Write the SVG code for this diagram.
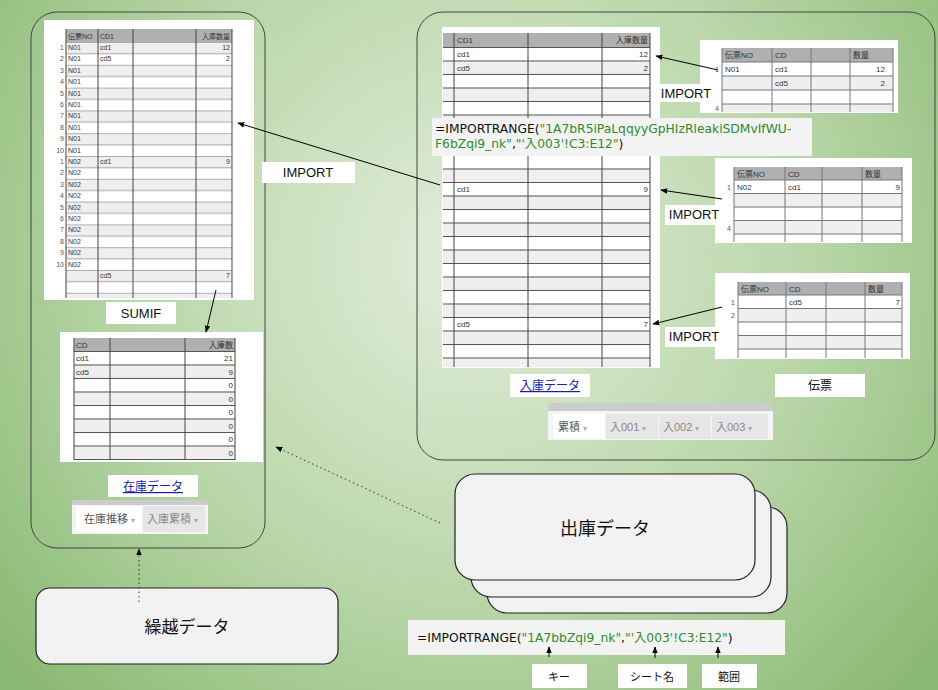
<svg xmlns="http://www.w3.org/2000/svg" width="938" height="690" viewBox="0 0 938 690">
<defs>
<radialGradient id="bg" cx="470" cy="260" r="620" gradientUnits="userSpaceOnUse">
<stop offset="0" stop-color="#e2eedc"/><stop offset="0.55" stop-color="#b9d6a8"/><stop offset="1" stop-color="#88b872"/>
</radialGradient>
<pattern id="rowsL" x="0" y="42" width="10" height="22.8" patternUnits="userSpaceOnUse">
<rect width="10" height="11.4" fill="#efefef"/><rect y="11.4" width="10" height="11.4" fill="#fff"/>
<line x1="0" y1="0.3" x2="10" y2="0.3" stroke="#888" stroke-width="0.8"/><line x1="0" y1="11.7" x2="10" y2="11.7" stroke="#888" stroke-width="0.8"/>
</pattern>
<pattern id="rowsM" x="0" y="47" width="10" height="27" patternUnits="userSpaceOnUse">
<rect width="10" height="13.5" fill="#fff"/><rect y="13.5" width="10" height="13.5" fill="#efefef"/>
<line x1="0" y1="0.5" x2="10" y2="0.5" stroke="#555" stroke-width="1"/><line x1="0" y1="14" x2="10" y2="14" stroke="#555" stroke-width="1"/>
</pattern>
<pattern id="rowsS" x="0" y="351" width="10" height="27" patternUnits="userSpaceOnUse">
<rect width="10" height="13.5" fill="#fff"/><rect y="13.5" width="10" height="13.5" fill="#efefef"/>
<line x1="0" y1="0.5" x2="10" y2="0.5" stroke="#555" stroke-width="1"/><line x1="0" y1="14" x2="10" y2="14" stroke="#555" stroke-width="1"/>
</pattern>
<marker id="ah" viewBox="0 0 10 10" refX="9" refY="5" markerWidth="7" markerHeight="7" orient="auto-start-reverse"><path d="M0,1 L10,5 L0,9 z" fill="#000"/></marker>
</defs>
<style>
text{font-family:"Liberation Sans","Noto Sans CJK JP",sans-serif;}
text.f{font-family:"DejaVu Sans","Noto Sans CJK JP",sans-serif;font-size:12.3px;fill:#111}
.t{font-size:7px;fill:#333}
.tm{font-size:8px;fill:#333}
.n{font-size:7px;fill:#555}
.lbl{font-size:13px;fill:#111}
.wb{fill:#fff}
.hdr{fill:#b0b0b0}
.vl{stroke:#444;stroke-width:1}
.cont{fill:none;stroke:#444;stroke-width:1}
.box{fill:#f2f2f2;stroke:#222;stroke-width:1.2}
.g{fill:#2e8b2e}
.link{font-size:12px;fill:#1a1aa6;text-decoration:underline}
.tab{font-size:11px;fill:#555}
.tg{font-size:11px;fill:#888}
.conn{stroke:#000;stroke-width:1;fill:none}
.dot{stroke:#333;stroke-width:1;stroke-dasharray:1.5 3;fill:none}
</style>
<rect width="938" height="690" fill="url(#bg)"/>

<g id="left-container">
<rect class="cont" x="31" y="12" width="234" height="536" rx="26"/>
</g>

<g id="left-table">
<rect class="wb" x="44" y="20" width="210" height="280"/>
<rect class="hdr" x="66" y="29" width="166" height="13"/>
<rect x="66" y="42" width="166" height="256" fill="url(#rowsL)"/>
<line class="vl" x1="66" y1="29" x2="66" y2="298"/><line class="vl" x1="98" y1="29" x2="98" y2="298"/><line class="vl" x1="133" y1="29" x2="133" y2="298"/><line class="vl" x1="196" y1="29" x2="196" y2="298"/><line class="vl" x1="232" y1="29" x2="232" y2="298"/>
<text class="t" x="68" y="38.5">伝票NO</text><text class="t" x="100" y="38.5">CD1</text><text class="t" x="230" y="38.5" text-anchor="end">入庫数量</text>
<g class="n" text-anchor="end">
<text x="64" y="49.9">1</text><text x="64" y="61.3">2</text><text x="64" y="72.7">3</text><text x="64" y="84.1">4</text><text x="64" y="95.5">5</text><text x="64" y="106.9">6</text><text x="64" y="118.3">7</text><text x="64" y="129.7">8</text><text x="64" y="141.1">9</text><text x="64" y="152.5">10</text>
<text x="64" y="163.9">1</text><text x="64" y="175.3">2</text><text x="64" y="186.7">3</text><text x="64" y="198.1">4</text><text x="64" y="209.5">5</text><text x="64" y="220.9">6</text><text x="64" y="232.3">7</text><text x="64" y="243.7">8</text><text x="64" y="255.1">9</text><text x="64" y="266.5">10</text>
</g>
<g class="t">
<text x="68" y="49.9">N01</text><text x="68" y="61.3">N01</text><text x="68" y="72.7">N01</text><text x="68" y="84.1">N01</text><text x="68" y="95.5">N01</text><text x="68" y="106.9">N01</text><text x="68" y="118.3">N01</text><text x="68" y="129.7">N01</text><text x="68" y="141.1">N01</text><text x="68" y="152.5">N01</text>
<text x="68" y="163.9">N02</text><text x="68" y="175.3">N02</text><text x="68" y="186.7">N02</text><text x="68" y="198.1">N02</text><text x="68" y="209.5">N02</text><text x="68" y="220.9">N02</text><text x="68" y="232.3">N02</text><text x="68" y="243.7">N02</text><text x="68" y="255.1">N02</text><text x="68" y="266.5">N02</text>
<text x="100" y="49.9">cd1</text><text x="100" y="61.3">cd5</text><text x="100" y="163.9">cd1</text><text x="100" y="277.9">cd5</text>
<text x="230" y="49.9" text-anchor="end">12</text><text x="230" y="61.3" text-anchor="end">2</text><text x="230" y="163.9" text-anchor="end">9</text><text x="230" y="277.9" text-anchor="end">7</text>
</g>
</g>

<g id="sumif-label"><rect class="wb" x="106" y="302" width="70" height="22"/><text class="lbl" x="141" y="318" text-anchor="middle" font-size="12">SUMIF</text></g>

<g id="stock-table">
<rect class="wb" x="60" y="332" width="203" height="130"/>
<rect class="hdr" x="74" y="338" width="161" height="13"/>
<rect x="74" y="351" width="161" height="109" fill="url(#rowsS)"/>
<line class="vl" x1="74" y1="338" x2="74" y2="460"/><line class="vl" x1="110" y1="338" x2="110" y2="460"/><line class="vl" x1="185" y1="338" x2="185" y2="460"/><line class="vl" x1="235" y1="338" x2="235" y2="460"/>
<text class="tm" x="76" y="347.5">CD</text><text class="tm" x="233" y="347.5" text-anchor="end">入庫数</text>
<g class="tm"><text x="76" y="361">cd1</text><text x="76" y="374.5">cd5</text></g>
<g class="tm" text-anchor="end"><text x="233" y="361">21</text><text x="233" y="374.5">9</text><text x="233" y="388">0</text><text x="233" y="401.5">0</text><text x="233" y="415">0</text><text x="233" y="428.5">0</text><text x="233" y="442">0</text><text x="233" y="455.5">0</text></g>
</g>

<g id="stock-link"><rect class="wb" x="108" y="475" width="90" height="22"/><text class="link" x="153" y="491" text-anchor="middle">在庫データ</text></g>
<g id="stock-tabs">
<rect x="72" y="500" width="136" height="34" fill="#f4f4f4"/><rect x="72" y="500" width="136" height="5" fill="#ccc"/>
<rect x="76" y="506" width="66" height="26" fill="#fff"/><rect x="143" y="506" width="62" height="26" fill="#e6e6e6"/>
<text class="tab" x="84" y="523">在庫推移 <tspan fill="#aaa" font-size="8">▾</tspan></text><text class="tg" x="147" y="523">入庫累積 <tspan fill="#aaa" font-size="8">▾</tspan></text>
</g>

<g id="carry-over"><rect class="box" x="36" y="588" width="302" height="76" rx="14"/><text x="187" y="633" text-anchor="middle" font-size="17" fill="#111">繰越データ</text></g>

<g id="right-container"><rect class="cont" x="417" y="12" width="518" height="448" rx="26"/></g>

<g id="receipt-table">
<rect class="wb" x="442" y="27" width="218" height="341"/>
<rect class="hdr" x="443" y="33" width="207" height="14"/>
<rect x="443" y="47" width="207" height="320" fill="url(#rowsM)"/>
<line class="vl" x1="454" y1="33" x2="454" y2="367"/><line class="vl" x1="528" y1="33" x2="528" y2="367"/><line class="vl" x1="602" y1="33" x2="602" y2="367"/><line class="vl" x1="650" y1="33" x2="650" y2="367"/>
<text class="tm" x="457" y="43">CD1</text><text class="tm" x="648" y="43" text-anchor="end">入庫数量</text>
<g class="tm"><text x="457" y="57">cd1</text><text x="457" y="70.5">cd5</text><text x="457" y="192">cd1</text><text x="457" y="327">cd5</text></g>
<g class="tm" text-anchor="end"><text x="648" y="57">12</text><text x="648" y="70.5">2</text><text x="648" y="192">9</text><text x="648" y="327">7</text></g>
</g>

<g id="formula-top">
<rect x="432" y="118" width="380" height="38" fill="#f3f3f3"/>
<text class="f" x="435" y="133">=IMPORTRANGE(<tspan class="g">"1A7bR5iPaLqqyyGpHIzRleakiSDMvIfWU-</tspan></text>
<text class="f" x="435" y="148"><tspan class="g">F6bZqi9_nk"</tspan>,<tspan class="g">"'入003'!C3:E12"</tspan>)</text>
</g>

<g id="slip1">
<rect class="wb" x="700" y="40" width="198" height="73"/>
<rect class="hdr" x="722" y="48" width="171" height="14"/>
<rect x="722" y="76" width="171" height="14" fill="#efefef"/><rect x="722" y="104" width="171" height="8" fill="#efefef"/>
<g stroke="#777"><line x1="722" y1="62" x2="893" y2="62"/><line x1="722" y1="76" x2="893" y2="76"/><line x1="722" y1="90" x2="893" y2="90"/><line x1="722" y1="104" x2="893" y2="104"/></g>
<g stroke="#777"><line x1="722" y1="48" x2="722" y2="112"/><line x1="772" y1="48" x2="772" y2="112"/><line x1="811" y1="48" x2="811" y2="112"/><line x1="850" y1="48" x2="850" y2="112"/><line x1="893" y1="48" x2="893" y2="112"/></g>
<text class="tm" x="725" y="58">伝票NO</text><text class="tm" x="775" y="58">CD</text><text class="tm" x="853" y="58">数量</text>
<text class="tm" x="725" y="72">N01</text><text class="tm" x="775" y="72">cd1</text><text class="tm" x="885" y="72" text-anchor="end">12</text>
<text class="tm" x="775" y="86">cd5</text><text class="tm" x="885" y="86" text-anchor="end">2</text>
<text class="n" x="719" y="72" text-anchor="end">1</text><text class="n" x="719" y="111" text-anchor="end">4</text>
</g>

<g id="slip2">
<rect class="wb" x="715" y="158" width="197" height="85"/>
<rect class="hdr" x="734" y="167" width="168" height="13"/>
<rect x="734" y="193.5" width="168" height="13.5" fill="#efefef"/><rect x="734" y="220.5" width="168" height="13.5" fill="#efefef"/>
<g stroke="#777"><line x1="734" y1="180" x2="902" y2="180"/><line x1="734" y1="193.5" x2="902" y2="193.5"/><line x1="734" y1="207" x2="902" y2="207"/><line x1="734" y1="220.5" x2="902" y2="220.5"/><line x1="734" y1="234" x2="902" y2="234"/>
<line x1="734" y1="167" x2="734" y2="242"/><line x1="785" y1="167" x2="785" y2="242"/><line x1="822" y1="167" x2="822" y2="242"/><line x1="862" y1="167" x2="862" y2="242"/><line x1="902" y1="167" x2="902" y2="242"/></g>
<text class="tm" x="737" y="176.5">伝票NO</text><text class="tm" x="788" y="176.5">CD</text><text class="tm" x="865" y="176.5">数量</text>
<text class="tm" x="737" y="190">N02</text><text class="tm" x="788" y="190">cd1</text><text class="tm" x="900" y="190" text-anchor="end">9</text>
<text class="n" x="731" y="190" text-anchor="end">1</text><text class="n" x="731" y="231" text-anchor="end">4</text>
</g>

<g id="slip3">
<rect class="wb" x="715" y="273" width="195" height="86"/>
<rect class="hdr" x="738" y="282" width="164" height="13"/>
<rect x="738" y="308.5" width="164" height="13.5" fill="#efefef"/><rect x="738" y="335.5" width="164" height="13.5" fill="#efefef"/>
<g stroke="#777"><line x1="738" y1="295" x2="902" y2="295"/><line x1="738" y1="308.5" x2="902" y2="308.5"/><line x1="738" y1="322" x2="902" y2="322"/><line x1="738" y1="335.5" x2="902" y2="335.5"/><line x1="738" y1="349" x2="902" y2="349"/>
<line x1="738" y1="282" x2="738" y2="358"/><line x1="786" y1="282" x2="786" y2="358"/><line x1="826" y1="282" x2="826" y2="358"/><line x1="865" y1="282" x2="865" y2="358"/><line x1="902" y1="282" x2="902" y2="358"/></g>
<text class="tm" x="741" y="291.5">伝票NO</text><text class="tm" x="789" y="291.5">CD</text><text class="tm" x="868" y="291.5">数量</text>
<text class="tm" x="789" y="305">cd5</text><text class="tm" x="900" y="305" text-anchor="end">7</text>
<text class="n" x="735" y="305" text-anchor="end">1</text><text class="n" x="735" y="318" text-anchor="end">2</text>
</g>

<g id="import-labels">
<rect class="wb" x="660" y="84" width="53" height="18"/><text class="lbl" x="686" y="98" text-anchor="middle" font-size="12">IMPORT</text>
<rect class="wb" x="665" y="205" width="58" height="20"/><text class="lbl" x="694" y="219" text-anchor="middle" font-size="12">IMPORT</text>
<rect class="wb" x="665" y="327" width="58" height="20"/><text class="lbl" x="694" y="341" text-anchor="middle" font-size="12">IMPORT</text>
<rect class="wb" x="262" y="162" width="93" height="21"/><text class="lbl" x="308" y="177" text-anchor="middle" font-size="12">IMPORT</text>
</g>

<g id="receipt-link"><rect class="wb" x="510" y="374" width="80" height="23"/><text class="link" x="550" y="390" text-anchor="middle">入庫データ</text></g>
<g id="slip-label"><rect class="wb" x="775" y="374" width="90" height="23"/><text x="820" y="390" text-anchor="middle" font-size="12" fill="#111">伝票</text></g>
<g id="receipt-tabs">
<rect x="548" y="403" width="225" height="37" fill="#f4f4f4"/><rect x="548" y="403" width="225" height="8" fill="#ccc"/>
<rect x="553" y="414" width="52" height="25" fill="#fff"/><rect x="606" y="414" width="52" height="25" fill="#e6e6e6"/><rect x="659" y="414" width="52" height="25" fill="#e6e6e6"/><rect x="712" y="414" width="56" height="25" fill="#e6e6e6"/>
<text class="tab" x="558" y="431">累積 <tspan fill="#aaa" font-size="8">▾</tspan></text><text class="tg" x="610" y="431">入001 <tspan fill="#aaa" font-size="8">▾</tspan></text><text class="tg" x="663" y="431">入002 <tspan fill="#aaa" font-size="8">▾</tspan></text><text class="tg" x="716" y="431">入003 <tspan fill="#aaa" font-size="8">▾</tspan></text>
</g>

<g id="shipping">
<rect class="box" x="487" y="507" width="300" height="106" rx="20"/>
<rect class="box" x="471" y="490" width="300" height="107" rx="20"/>
<rect class="box" x="455" y="474" width="300" height="106" rx="20"/>
<text x="605" y="535" text-anchor="middle" font-size="18" fill="#111">出庫データ</text>
</g>

<g id="formula-bottom">
<rect x="408" y="620" width="377" height="35" fill="#f3f3f3"/>
<text class="f" x="417" y="642">=IMPORTRANGE(<tspan class="g">"1A7bbZqi9_nk"</tspan>,<tspan class="g">"'入003'!C3:E12"</tspan>)</text>
</g>
<g id="key-label"><rect class="wb" x="532" y="664" width="55" height="24"/><text x="559" y="681" text-anchor="middle" font-size="11" fill="#111">キー</text></g>
<g id="sheet-label"><rect class="wb" x="618" y="664" width="69" height="24"/><text x="652" y="681" text-anchor="middle" font-size="11" fill="#111">シート名</text></g>
<g id="range-label"><rect class="wb" x="702" y="664" width="55" height="24"/><text x="729" y="681" text-anchor="middle" font-size="11" fill="#111">範囲</text></g>

<g id="connectors">
<line class="conn" x1="718" y1="70" x2="656" y2="56" marker-end="url(#ah)"/>
<line class="conn" x1="722" y1="199" x2="661" y2="190" marker-end="url(#ah)"/>
<line class="conn" x1="722" y1="307" x2="653" y2="324" marker-end="url(#ah)"/>
<line class="conn" x1="440" y1="185" x2="238" y2="123" marker-end="url(#ah)"/>
<line class="conn" x1="216" y1="290" x2="206" y2="332" marker-end="url(#ah)"/>
<line class="dot" x1="440" y1="523" x2="276" y2="447" marker-end="url(#ah)"/>
<line class="dot" x1="139" y1="602" x2="139" y2="549" marker-end="url(#ah)"/>
<line class="conn" x1="549" y1="657" x2="549" y2="647" marker-end="url(#ah)"/>
<line class="conn" x1="655" y1="658" x2="655" y2="647" marker-end="url(#ah)"/>
<line class="conn" x1="718" y1="658" x2="718" y2="647" marker-end="url(#ah)"/>
</g>
</svg>
